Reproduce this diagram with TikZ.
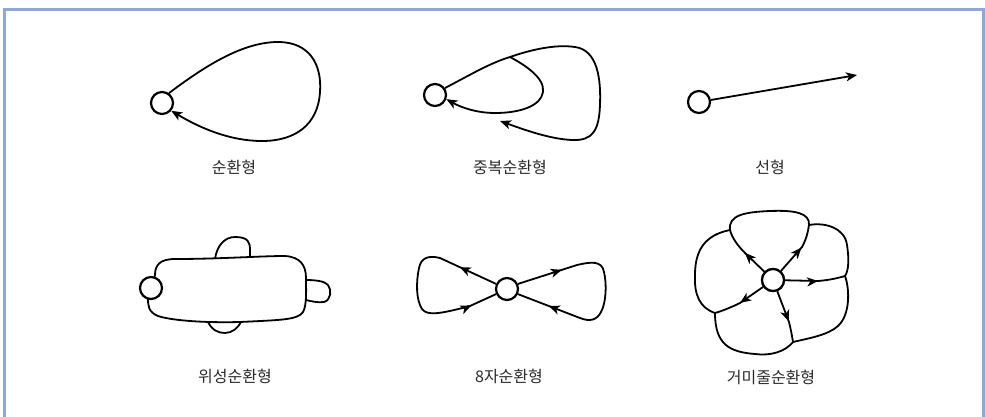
\documentclass[tikz,border=0pt]{standalone}
\usepackage{fontspec}
\newfontfamily\kr{Noto Sans CJK KR}
\usetikzlibrary{arrows.meta,decorations.markings}
\definecolor{frameblue}{HTML}{8FA8D8}
\definecolor{txt}{HTML}{2A2A2A}
\tikzset{
  hub/.style={circle,draw,line width=2.2pt,fill=white,minimum size=22pt,inner sep=0pt},
  curve/.style={line width=1.8pt,line join=round},
  tip/.style={-{Stealth[length=11pt,width=9pt,inset=3pt]}},
  lbl/.style={font=\kr\fontsize{16}{18}\selectfont,text=txt},
  arr at/.style={postaction={decorate},decoration={markings,mark=at position #1 with {\arrow{Stealth[length=11pt,width=9pt,inset=3pt]}}}},
  arr two/.style 2 args={postaction={decorate},decoration={markings,
     mark=at position #1 with {\arrow{Stealth[length=11pt,width=9pt,inset=3pt]}},
     mark=at position #2 with {\arrow{Stealth[length=11pt,width=9pt,inset=3pt]}}}}
}
\begin{document}
\begin{tikzpicture}[x=1pt,y=-1pt]
\useasboundingbox (0,0) rectangle (985,416);
\draw[frameblue,line width=3pt] (4.5,417) -- (4.5,9.5) -- (983.5,9.5) -- (983.5,417);

% 1 circular
\node[hub] (c1) at (162,103) {};
\draw[curve,tip] (c1.55) .. controls (200,70) and (240,42) .. (278,42) .. controls (310,42) and (322,65) .. (320,92) .. controls (318,125) and (295,141) .. (262,141) .. controls (230,141) and (200,128) .. (c1.-40);
\node[lbl] (l1) at (234,167) {순환형};

% 2 multiple circular
\node[hub] (c2) at (435,95) {};
\coordinate (j2) at (510,57);
\coordinate (e2) at (500,121);
\draw[curve,tip] (c2.35) .. controls (470,75) and (490,63) .. (j2) .. controls (530,50) and (555,44) .. (575,47) .. controls (598,50) and (601,80) .. (600,105) .. controls (599,130) and (593,141) .. (572,140) .. controls (550,139) and (525,130) .. (e2);
\draw[curve,tip] (j2) .. controls (525,65) and (545,78) .. (543,92) .. controls (541,106) and (520,113) .. (495,113) .. controls (478,113) and (462,108) .. (c2.-20);
\node[lbl] (l2) at (510,167) {중복순환형};

% 3 linear
\node[hub] (c3) at (699,102) {};
\coordinate (e3) at (857,75);
\draw[curve,tip] (c3) -- (e3);
\node[lbl] (l3) at (770,167) {선형};

% 4 satellite
\draw[curve] (155,275) .. controls (155,265) and (160,259) .. (175,259) .. controls (220,259) and (260,256) .. (285,256) .. controls (300,257) and (306,265) .. (306,278) .. controls (306,290) and (307,305) .. (303,312) .. controls (298,320) and (280,320) .. (240,322) .. controls (200,323) and (170,320) .. (158,316) .. controls (148,312) and (148,305) .. (148,298) -- cycle;
\draw[curve] (215,259) .. controls (217,245) and (225,237) .. (235,237) .. controls (248,237) and (250,242) .. (250,250) -- (250,257);
\draw[curve] (306,280) .. controls (315,280) and (325,281) .. (328,285) .. controls (332,290) and (331,300) .. (324,302) .. controls (318,303) and (310,301) .. (306,300);
\draw[curve] (208,322) .. controls (212,330) and (218,333) .. (225,333) .. controls (232,333) and (238,328) .. (241,322);
\node[hub] (c4) at (151,288) {};
\node[lbl] (l4) at (235,376) {위성순환형};

% 5 figure eight
\node[hub] (c5) at (507,289) {};
\draw[curve,arr two={40pt}{-27pt}] (c5.155) -- (440,258) .. controls (428,255) and (421,258) .. (419,268) .. controls (416,282) and (416,300) .. (422,309) .. controls (427,316) and (440,314) .. (470,306) -- (c5.205);
\draw[curve,arr two={46pt}{-33pt}] (c5.25) -- (577,265) .. controls (590,262) and (602,260) .. (604,272) .. controls (607,285) and (606,303) .. (601,312) .. controls (597,320) and (590,322) .. (580,318) -- (c5.-25);
\node[lbl] (l5) at (509,376) {8자순환형};

% 6 spider web
\node[hub] (c6) at (773,280) {};
\coordinate (J1) at (730,230);
\coordinate (J2) at (809,225);
\coordinate (J3) at (845,276);
\coordinate (J4) at (793,342);
\coordinate (J5) at (715,313);
\draw[curve] (J1) .. controls (728,215) and (745,212) .. (770,211) .. controls (795,210) and (810,213) .. (J2);
\draw[curve] (J2) .. controls (825,222) and (845,228) .. (847,245) .. controls (849,258) and (849,270) .. (J3);
\draw[curve] (J3) .. controls (850,290) and (850,315) .. (838,326) .. controls (828,335) and (810,338) .. (J4);
\draw[curve] (J4) .. controls (785,352) and (770,356) .. (755,354) .. controls (730,352) and (715,345) .. (J5);
\draw[curve] (J5) .. controls (700,308) and (694,295) .. (695,275) .. controls (695,250) and (705,235) .. (J1);
\draw[curve,arr at=27pt] (c6) -- (745,253) .. controls (738,246) and (732,238) .. (J1);
\draw[curve,arr at=31pt] (c6) -- (802,247) .. controls (806,240) and (808,232) .. (J2);
\draw[curve,arr at=33pt] (c6) -- (818,281) .. controls (830,280) and (838,278) .. (J3);
\draw[curve,arr at=32pt] (c6) -- (789,322) .. controls (791,330) and (792,336) .. (J4);
\draw[curve,arr at=28pt] (c6) -- (740,303) .. controls (732,307) and (722,311) .. (J5);
\node[hub] (c6b) at (c6) {};
\node[lbl] (l6) at (771,377) {거미줄순환형};
\end{tikzpicture}
\end{document}
